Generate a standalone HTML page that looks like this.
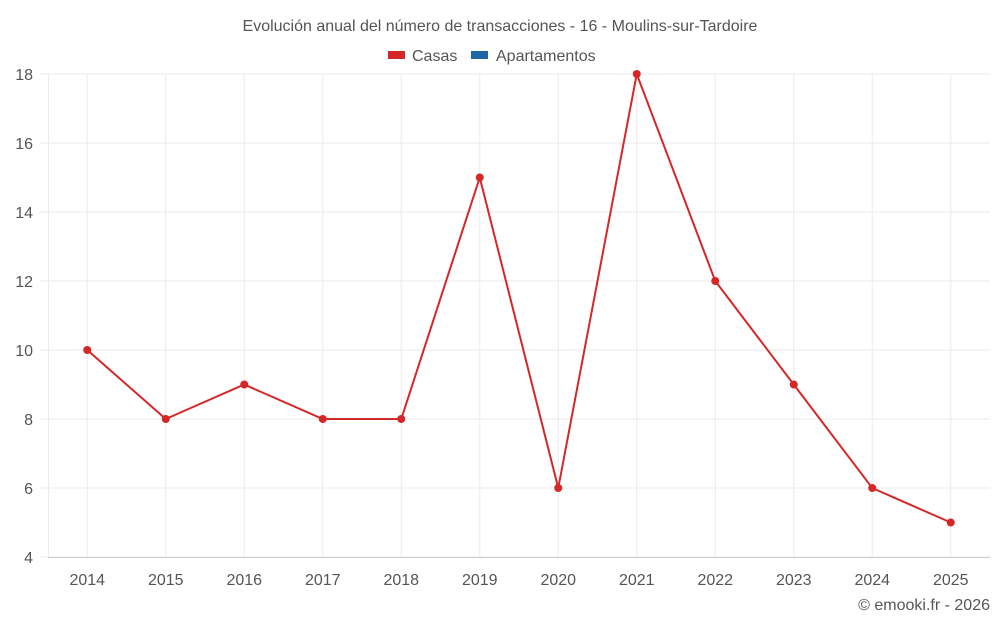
<!DOCTYPE html>
<html><head><meta charset="utf-8"><style>
body{margin:0;background:#fff;}
svg{display:block;font-family:"Liberation Sans",sans-serif;}
</style></head><body>
<svg id="c" width="1000" height="625">
<text x="500" y="31" text-anchor="middle" font-size="16" fill="#555">Evolución anual del número de transacciones - 16 - Moulins-sur-Tardoire</text>
<g>
<g><rect x="388" y="51" width="17" height="8" fill="#d62728"/><text x="412" y="61" font-size="16" fill="#555">Casas</text></g>
<g><rect x="471" y="51" width="17" height="8" fill="#1f66a6"/><text x="496" y="61" font-size="16" fill="#555">Apartamentos</text></g>
</g>
<g id="grid"></g><g id="axes"></g><g id="series"></g>
<text x="990" y="610" text-anchor="end" font-size="16" fill="#555">© emooki.fr - 2026</text>
</svg>
<script>
const years=["2014","2015","2016","2017","2018","2019","2020","2021","2022","2023","2024","2025"];
const casas=[10,8,9,8,8,15,6,18,12,9,6,5];
const yTicks=[4,6,8,10,12,14,16,18];
const L=48,R=990,T=74,B=557,ymin=4,ymax=18;
const bw=(R-L)/years.length;
const x=i=>L+bw*(i+0.5);
const y=v=>B-(v-ymin)/(ymax-ymin)*(B-T);
const NS="http://www.w3.org/2000/svg";
function mk(tag,attrs,parent,txt){const e=document.createElementNS(NS,tag);for(const k in attrs)e.setAttribute(k,attrs[k]);if(txt!==undefined)e.textContent=txt;parent.appendChild(e);return e;}
const g=document.getElementById('grid'),a=document.getElementById('axes'),s=document.getElementById('series');
mk('line',{x1:L+0.5,x2:L+0.5,y1:T,y2:B,stroke:'#ebebeb'},g);
yTicks.forEach(v=>{
 const l=mk('line',{x1:40,x2:R,y1:y(v),y2:y(v),stroke:'#ebebeb'},g);
 
 
 const t=mk('text',{x:33,y:y(v)+6,'text-anchor':'end','font-size':16,fill:'#555'},a,v);
 
 
});
years.forEach((yr,i)=>{
 const l=mk('line',{x1:x(i),x2:x(i),y1:T,y2:B,stroke:'#ebebeb'},g);
 
 
 const t=mk('text',{x:x(i),y:585,'text-anchor':'middle','font-size':16,fill:'#555'},a,yr);
 
 
});
mk('line',{x1:L,x2:R,y1:B+0.5,y2:B+0.5,stroke:'#ccc'},a);
const p=mk('polyline',{points:casas.map((v,i)=>x(i)+','+y(v)).join(' '),fill:'none',stroke:'#d62728','stroke-width':2},s);


casas.forEach((v,i)=>{
 const c=mk('circle',{cx:x(i),cy:y(v),r:4,fill:'#d62728'},s);
 
 
});
</script>
</body></html>
